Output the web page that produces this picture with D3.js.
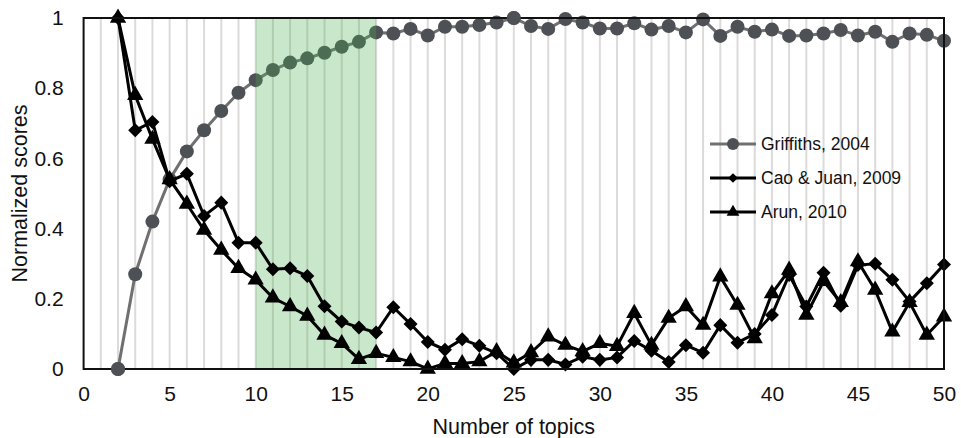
<!DOCTYPE html>
<html>
<head>
<meta charset="utf-8">
<script src="https://cdn.jsdelivr.net/npm/d3@7"></script>
<style>
  body { margin: 0; background: #fff; }
  text { font-family: "Liberation Sans", Arial, Helvetica, sans-serif; fill: #111; }
</style>
</head>
<body>
<div id="chart"></div>
<script>
// number of topics, 2..50
var topics = [2,3,4,5,6,7,8,9,10,11,12,13,14,15,16,17,18,19,20,21,22,23,24,25,26,
  27,28,29,30,31,32,33,34,35,36,37,38,39,40,41,42,43,44,45,46,47,48,49,50];

var griffiths = [0,0.27,0.42,0.54,0.62,0.68,0.735,0.787,0.823,0.852,0.873,0.885,0.901,0.918,0.932,0.959,
  0.956,0.969,0.950,0.975,0.975,0.980,0.987,1.0,0.977,0.969,0.997,0.987,0.970,0.970,0.985,0.967,
  0.977,0.959,0.996,0.949,0.975,0.961,0.967,0.949,0.950,0.956,0.966,0.950,0.961,0.932,0.956,0.952,0.935];

var caoJuan = [1.0,0.68,0.704,0.535,0.556,0.436,0.474,0.36,0.36,0.284,0.287,0.265,0.179,0.135,0.118,0.104,
  0.176,0.128,0.077,0.055,0.085,0.066,0.045,0.0,0.026,0.026,0.013,0.035,0.026,0.033,0.08,0.052,
  0.02,0.068,0.046,0.125,0.075,0.10,0.154,0.268,0.178,0.274,0.18,0.296,0.30,0.254,0.192,0.244,0.298];

var arun = [1.0,0.78,0.655,0.54,0.47,0.396,0.339,0.287,0.254,0.203,0.178,0.151,0.097,0.073,0.028,0.045,
  0.033,0.021,0.0,0.016,0.016,0.021,0.05,0.018,0.047,0.092,0.068,0.05,0.073,0.065,0.159,0.068,
  0.145,0.178,0.125,0.263,0.182,0.087,0.215,0.282,0.154,0.25,0.19,0.306,0.225,0.106,0.19,0.097,0.149];

var seriesNames = ["Griffiths, 2004", "Cao & Juan, 2009", "Arun, 2010"];
var xTicks = [0,5,10,15,20,25,30,35,40,45,50];
var yTicks = [0,0.2,0.4,0.6,0.8,1];
var band = [10, 17]; // highlighted range

var w = 961, h = 438;
var m = {top: 18, right: 17, bottom: 69, left: 83.6};

var x = d3.scaleLinear().domain([0, 50]).range([m.left, w - m.right]);
var y = d3.scaleLinear().domain([0, 1]).range([h - m.bottom, m.top]);

var svg = d3.select("#chart").append("svg")
  .attr("width", w)
  .attr("height", h);

// vertical grid lines
svg.append("g")
  .selectAll("line")
  .data(d3.range(1, 50))
  .enter()
  .append("line")
  .attr("x1", function(d) { return x(d); })
  .attr("x2", function(d) { return x(d); })
  .attr("y1", y(0))
  .attr("y2", y(1))
  .attr("stroke", "#dddada")
  .attr("stroke-width", 2);

// axes (no ticks, no domain)
var gx = svg.append("g")
  .attr("transform", "translate(0," + y(0) + ")")
  .call(d3.axisBottom(x).tickValues(xTicks).tickSize(0).tickPadding(17).tickFormat(d3.format("d")));
gx.select(".domain").remove();
gx.selectAll("text").style("font-size", "21px").style("font-family", null);

var gy = svg.append("g")
  .attr("transform", "translate(" + m.left + ",0)")
  .call(d3.axisLeft(y).tickValues(yTicks).tickSize(0).tickPadding(20).tickFormat(function(d) { return d3.format("")(+d.toFixed(1)); }));
gy.select(".domain").remove();
gy.selectAll("text").style("font-size", "21px").style("font-family", null);

var data = topics.map(function(t, i) {
  return {t: t, g: griffiths[i], c: caoJuan[i], a: arun[i]};
});

function line(key) {
  return d3.line()
    .x(function(d) { return x(d.t); })
    .y(function(d) { return y(d[key]); });
}

var diamond = d3.symbol().type(d3.symbolDiamond2).size(125);
var triangle = d3.symbol().type(d3.symbolTriangle).size(115);

// Griffiths
svg.append("path").datum(data)
  .attr("d", line("g"))
  .attr("fill", "none").attr("stroke", "#707070").attr("stroke-width", 3);
svg.append("g").selectAll("circle")
  .data(data).enter().append("circle")
  .attr("cx", function(d) { return x(d.t); })
  .attr("cy", function(d) { return y(d.g); })
  .attr("r", 7)
  .attr("fill", "#4d5155");

// green band, semi-transparent
svg.append("rect")
  .attr("x", x(band[0]))
  .attr("y", y(1))
  .attr("width", x(band[1]) - x(band[0]))
  .attr("height", y(0) - y(1))
  .attr("fill", "#4caf50")
  .attr("fill-opacity", 0.3);

// Arun
svg.append("path").datum(data)
  .attr("d", line("a"))
  .attr("fill", "none").attr("stroke", "#000").attr("stroke-width", 3);
svg.append("g").selectAll("path")
  .data(data).enter().append("path")
  .attr("d", triangle)
  .attr("transform", function(d) { return "translate(" + x(d.t) + "," + y(d.a) + ")"; })
  .attr("fill", "#000");

// Cao & Juan
svg.append("path").datum(data)
  .attr("d", line("c"))
  .attr("fill", "none").attr("stroke", "#000").attr("stroke-width", 3);
svg.append("g").selectAll("path")
  .data(data).enter().append("path")
  .attr("d", diamond)
  .attr("transform", function(d) { return "translate(" + x(d.t) + "," + y(d.c) + ")"; })
  .attr("fill", "#000");

// frame
svg.append("rect")
  .attr("x", x(0))
  .attr("y", y(1))
  .attr("width", x(50) - x(0))
  .attr("height", y(0) - y(1))
  .attr("fill", "none")
  .attr("stroke", "#111")
  .attr("stroke-width", 2);

// redraw markers sitting on the frame so they stay on top
svg.append("g").selectAll("circle")
  .data(data.filter(function(d) { return d.g == 0 || d.g == 1; })).enter().append("circle")
  .attr("cx", function(d) { return x(d.t); })
  .attr("cy", function(d) { return y(d.g); })
  .attr("r", 7)
  .attr("fill", "#4d5155");

// legend
var leg = svg.append("g").attr("transform", "translate(710,144)");
var legStyle = [
  {stroke: "#707070", mark: "circle", fill: "#4d5155"},
  {stroke: "#000", mark: "diamond", fill: "#000"},
  {stroke: "#000", mark: "triangle", fill: "#000"}
];
seriesNames.forEach(function(name, i) {
  var g = leg.append("g").attr("transform", "translate(0," + (i * 34) + ")");
  g.append("line").attr("x1", 0).attr("x2", 46).attr("y1", 0).attr("y2", 0)
    .attr("stroke", legStyle[i].stroke).attr("stroke-width", 3);
  if (legStyle[i].mark == "circle") {
    g.append("circle").attr("cx", 23).attr("cy", 0).attr("r", 6).attr("fill", legStyle[i].fill);
  } else if (legStyle[i].mark == "diamond") {
    g.append("path").attr("d", d3.symbol().type(d3.symbolDiamond2).size(60))
      .attr("transform", "translate(23,0)").attr("fill", legStyle[i].fill);
  } else {
    g.append("path").attr("d", d3.symbol().type(d3.symbolTriangle).size(70))
      .attr("transform", "translate(23,0)").attr("fill", legStyle[i].fill);
  }
  g.append("text").attr("x", 51).attr("y", 0).attr("dy", "0.35em")
    .style("font-size", "17.5px").text(name);
});

// axis titles
svg.append("text")
  .attr("x", (x(0) + x(50)) / 2)
  .attr("y", 434)
  .attr("text-anchor", "middle")
  .style("font-size", "21.5px")
  .text("Number of topics");

svg.append("text")
  .attr("transform", "translate(19," + ((y(0) + y(1)) / 2) + ") rotate(-90)")
  .attr("text-anchor", "middle")
  .attr("dy", "0.35em")
  .style("font-size", "21.5px")
  .text("Normalized scores");
</script>
</body>
</html>
